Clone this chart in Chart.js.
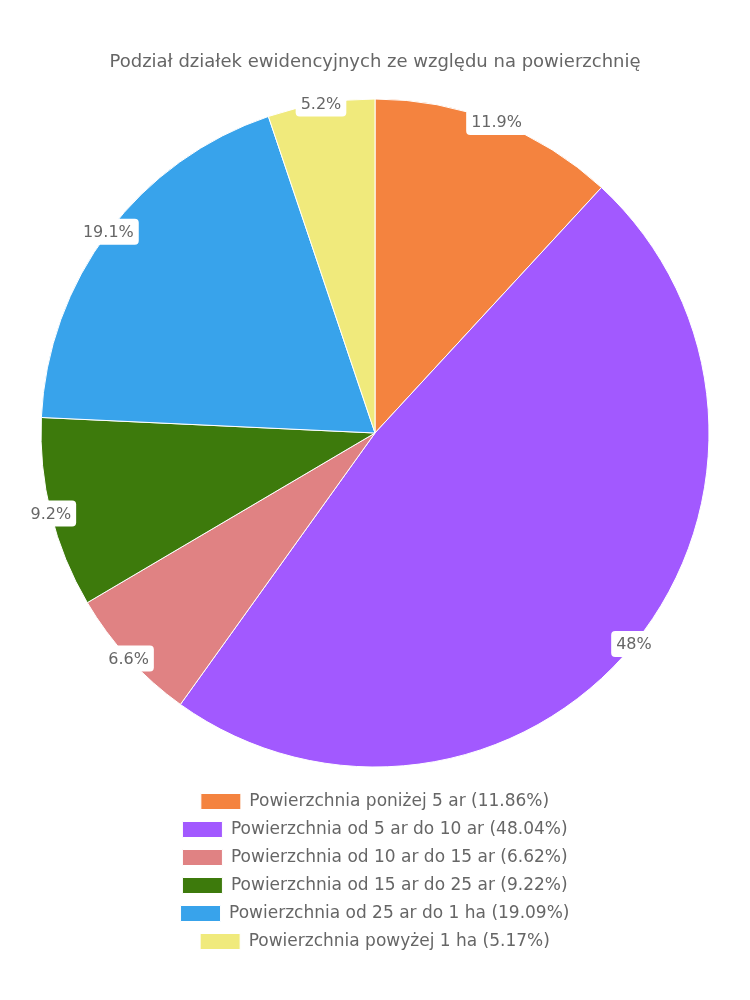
<!DOCTYPE html>
<html>
<head>
<meta charset="utf-8">
<script src="https://cdn.jsdelivr.net/npm/chart.js@4"></script>
<style>
html,body{margin:0;padding:0;background:#fff;}
#wrap{width:750px;height:1000px;position:relative;}
</style>
</head>
<body>
<div id="wrap"><canvas id="c"></canvas></div>
<script>
const titleText = 'Podział działek ewidencyjnych ze względu na powierzchnię';
const categories = [
  'Powierzchnia poniżej 5 ar',
  'Powierzchnia od 5 ar do 10 ar',
  'Powierzchnia od 10 ar do 15 ar',
  'Powierzchnia od 15 ar do 25 ar',
  'Powierzchnia od 25 ar do 1 ha',
  'Powierzchnia powyżej 1 ha'
];
const values = [11.86, 48.04, 6.62, 9.22, 19.09, 5.17];
const colors = ['#F4833F', '#A259FF', '#E08283', '#3D7A0C', '#38A3EB', '#F0EA7C'];

const FONT = '"DejaVu Sans", sans-serif';
const TEXT = '#666666';

// one legend item per row, each row centred
const oneRowLegend = {
  id: 'oneRowLegend',
  afterInit(chart) {
    const lg = chart.legend;
    if (!lg) return;
    const orig = lg._fitRows;
    lg._fitRows = function(...a) {
      const m = this.maxWidth;
      this.maxWidth = 1;
      const r = orig.apply(this, a);
      this.maxWidth = m;
      return r;
    };
  }
};

const labelPlugin = {
  id: 'sliceLabels',
  afterDatasetsDraw(chart) {
    const ctx = chart.ctx;
    const meta = chart.getDatasetMeta(0);
    ctx.save();
    ctx.font = '16px ' + FONT;
    ctx.textAlign = 'center';
    ctx.textBaseline = 'middle';
    meta.data.forEach((arc, i) => {
      const p = arc.getProps(['x','y','startAngle','endAngle','outerRadius'], true);
      const mid = (p.startAngle + p.endAngle) / 2;
      const x = p.x + Math.cos(mid) * p.outerRadius;
      const y = p.y + Math.sin(mid) * p.outerRadius;
      const txt = String(Number(values[i].toFixed(1))) + '%';
      const w = ctx.measureText(txt).width + 10;
      const h = 26;
      ctx.fillStyle = '#ffffff';
      ctx.beginPath();
      ctx.roundRect(x - w/2, y - h/2, w, h, 4);
      ctx.fill();
      ctx.fillStyle = TEXT;
      ctx.fillText(txt, x, y + 1);
    });
    ctx.restore();
  }
};

new Chart(document.getElementById('c'), {
  type: 'pie',
  data: {
    labels: categories.map((c, i) => c + ' (' + values[i] + '%)'),
    datasets: [{
      data: values,
      backgroundColor: colors,
      borderColor: '#ffffff',
      borderWidth: 1,
      radius: 334,
      hoverOffset: 0
    }]
  },
  options: {
    responsive: true,
    maintainAspectRatio: false,
    animation: false,
    layout: { padding: { top: 0, bottom: 40, left: 0, right: 0 } },
    plugins: {
      title: {
        display: true,
        text: titleText,
        color: TEXT,
        font: { family: FONT, size: 18, weight: 'normal' },
        padding: { top: 52, bottom: 10.4 }
      },
      legend: {
        position: 'bottom',
        labels: {
          color: TEXT,
          font: { family: FONT, size: 17, weight: 'normal' },
          padding: 11,
          boxWidth: 40,
          boxHeight: 16
        }
      },
      tooltip: { enabled: false }
    }
  },
  plugins: [oneRowLegend, labelPlugin]
});
</script>
</body>
</html>
